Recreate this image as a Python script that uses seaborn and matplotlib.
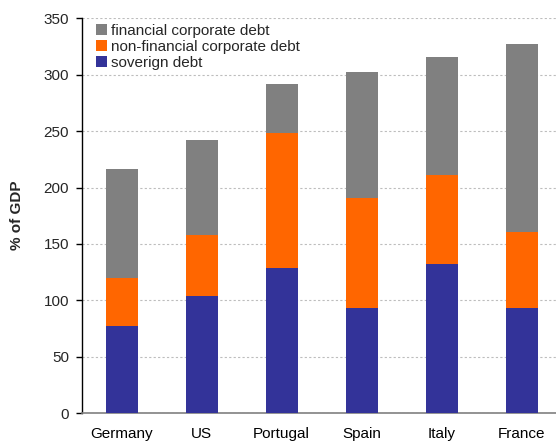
import matplotlib
matplotlib.use("Agg")
import matplotlib.pyplot as plt
from matplotlib.patches import Patch
from matplotlib.ticker import FixedLocator
import numpy as np
import pandas as pd
import seaborn as sns

countries = ["Germany", "US", "Portugal", "Spain", "Italy", "France"]
sovereign = [77, 104, 129, 93, 132, 93]
non_financial = [43, 54, 119, 98, 79, 68]
financial = [96, 84, 44, 111, 105, 166]

series_names = ["financial corporate debt", "non-financial corporate debt", "soverign debt"]
colors = {"financial corporate debt": "#808080",
          "non-financial corporate debt": "#FF6600",
          "soverign debt": "#333399"}

sns.set_theme(style="white")
plt.rcParams["font.family"] = ["Liberation Sans", "DejaVu Sans"]

df = pd.DataFrame({"country": countries,
                   "sov": sovereign,
                   "nonfin": non_financial,
                   "fin": financial})
# stacked tops for each layer
df["top_sov"] = df["sov"]
df["top_nonfin"] = df["sov"] + df["nonfin"]
df["top_fin"] = df["top_nonfin"] + df["fin"]

fig = plt.figure(figsize=(5.56, 4.43), dpi=100)
ax = fig.add_axes([0.147, 0.067, 0.863, 0.892])

for col, name in [("top_fin", series_names[0]),
                  ("top_nonfin", series_names[1]),
                  ("top_sov", series_names[2])]:
    sns.barplot(data=df, x="country", y=col, order=countries,
                color=colors[name], width=0.4, saturation=1,
                edgecolor="none", linewidth=0, ax=ax, zorder=3)

ax.set_xlim(-0.5, len(countries) - 0.5)
ax.set_ylim(0, 350)
ax.set_yticks(np.arange(0, 351, 50))
ax.yaxis.grid(True, color="#BDBDBD", linestyle=(0, (2, 2)), linewidth=0.8, zorder=0)
ax.xaxis.grid(False)

ax.set_xlabel("")
ax.set_ylabel("% of GDP", fontsize=11, fontweight="bold", labelpad=14)

ax.tick_params(axis="x", which="major", length=0, labelsize=11, pad=10, colors="black")
ax.xaxis.set_minor_locator(FixedLocator(np.arange(-0.5, len(countries), 1.0)))
ax.tick_params(axis="x", which="minor", length=4, width=1, color="#808080", direction="out")
ax.tick_params(axis="y", length=4, width=1, color="black", direction="out",
               labelsize=11, pad=5, left=True)

for s in ["top", "right"]:
    ax.spines[s].set_visible(False)
ax.spines["left"].set_color("black")
ax.spines["left"].set_linewidth(1)
ax.spines["bottom"].set_color("#808080")
ax.spines["bottom"].set_linewidth(1.2)

handles = [Patch(facecolor=colors[n], edgecolor="none", label=n) for n in series_names]
ax.legend(handles=handles, loc="upper left", bbox_to_anchor=(0.03, 0.985),
          frameon=False, fontsize=11, handlelength=0.7, handleheight=0.7,
          handletextpad=0.25, labelspacing=0.12, borderpad=0, borderaxespad=0)

fig.savefig("out.png", dpi=100)
